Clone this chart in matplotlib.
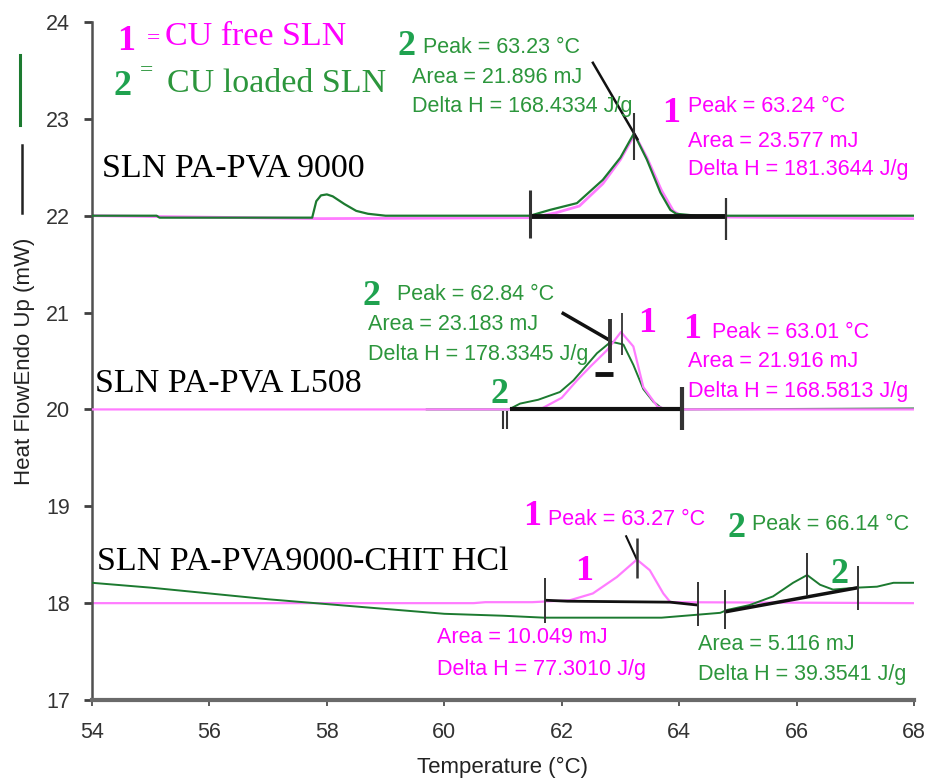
import matplotlib
matplotlib.use("Agg")
import matplotlib.pyplot as plt
from matplotlib.lines import Line2D

# ---------------- data ----------------
# Top trace: SLN PA-PVA 9000
g1_x = [54, 55.1, 55.15, 57.75, 57.82, 57.9, 58.0, 58.1, 58.3, 58.5, 58.7, 59.0, 61.46, 61.8, 62.26, 62.7, 63.0, 63.23, 63.45, 63.68, 63.85, 63.95, 64.3, 68]
g1_y = [22.0, 22.0, 21.98, 21.98, 22.15, 22.21, 22.22, 22.2, 22.12, 22.05, 22.02, 22.0, 22.0, 22.06, 22.13, 22.37, 22.6, 22.85, 22.58, 22.24, 22.06, 22.02, 22.0, 22.0]
p1_x = [54, 57.9, 61.5, 61.9, 62.3, 62.7, 63.0, 63.24, 63.45, 63.7, 63.9, 64.05, 68]
p1_y = [22.0, 21.97, 21.98, 22.03, 22.1, 22.33, 22.58, 22.84, 22.6, 22.26, 22.05, 21.99, 21.97]

# Middle trace: SLN PA-PVA L508
p2_x = [54, 61.63, 62.0, 62.26, 62.5, 62.77, 63.01, 63.22, 63.39, 63.63, 63.8, 68]
p2_y = [20.0, 20.0, 20.12, 20.3, 20.45, 20.61, 20.8, 20.65, 20.23, 20.03, 20.0, 20.0]
g2_x = [59.7, 61.1, 61.29, 61.6, 61.97, 62.2, 62.43, 62.6, 62.84, 63.05, 63.22, 63.39, 63.56, 63.73, 64.0, 68]
g2_y = [20.0, 20.0, 20.06, 20.1, 20.18, 20.3, 20.46, 20.58, 20.7, 20.67, 20.46, 20.21, 20.08, 20.0, 20.0, 20.01]

# Bottom trace: SLN PA-PVA9000-CHIT HCl
g3_x = [54, 55, 56, 57, 58, 59, 60, 61, 61.7, 63.7, 64.3, 64.7, 64.82, 65.2, 65.6, 65.94, 66.18, 66.4, 66.62, 67.03, 67.37, 67.65, 68]
g3_y = [18.21, 18.16, 18.1, 18.04, 17.99, 17.94, 17.89, 17.87, 17.85, 17.85, 17.88, 17.9, 17.93, 17.98, 18.07, 18.21, 18.29, 18.19, 18.14, 18.16, 18.17, 18.21, 18.21]
p3_x = [54, 60.5, 60.7, 61.5, 62.14, 62.53, 62.94, 63.28, 63.5, 63.73, 63.85, 68]
p3_y = [18.0, 18.0, 18.01, 18.01, 18.03, 18.1, 18.27, 18.45, 18.34, 18.1, 18.01, 18.0]

# integration baselines and tangents (black)
base_segments = [
    ([61.46, 64.8], [22.0, 22.0], 3.5),
    ([62.52, 63.3], [23.59, 22.78], 1.8),
    ([61.12, 64.05], [20.0, 20.0], 3.0),
    ([62.0, 62.8], [21.0, 20.72], 2.5),
    ([62.57, 62.88], [20.37, 20.37], 3.5),
    ([61.72, 62.1, 63.85, 64.32], [18.03, 18.02, 18.01, 17.98], 2.0),
    ([64.78, 67.05], [17.91, 18.16], 2.5),
    ([63.09, 63.28], [18.7, 18.45], 1.5),
]
# vertical limit/peak markers: x, y bottom, y top, width
mark_x = [61.46, 64.8, 63.23, 61.0, 61.07, 64.05, 62.83, 63.03, 61.72, 64.32, 63.28, 64.78, 67.05, 66.18]
mark_y0 = [21.77, 21.75, 22.58, 19.8, 19.8, 19.79, 20.48, 20.56, 17.8, 17.76, 18.26, 17.73, 17.93, 18.07]
mark_y1 = [22.27, 22.18, 23.06, 19.98, 19.98, 20.23, 20.93, 21.0, 18.26, 18.22, 18.67, 18.14, 18.38, 18.52]
mark_w = [2.2, 1.6, 1.5, 1.5, 1.5, 3.0, 2.8, 1.3, 1.4, 1.4, 1.8, 1.4, 1.4, 1.4]

xticks = [54, 56, 58, 60, 62, 64, 66, 68]
yticks = [17, 18, 19, 20, 21, 22, 23, 24]

# ---------------- style ----------------
MAG = "#ff00ff"
PINK = "#ff7cff"
GCURVE = "#1c7a30"
GTEXT = "#2c963c"
GNUM = "#1fa24f"
SANS = "Liberation Sans"
SERIF = "Liberation Serif"

fig = plt.figure(figsize=(9.28, 7.78), dpi=100)
ax = fig.add_axes([92 / 928, 78 / 778, 822 / 928, 678 / 778])
ax.set_xlim(54, 68)
ax.set_ylim(17, 24)

for s in ["top", "right"]:
    ax.spines[s].set_visible(False)
ax.spines["left"].set_color("#505050")
ax.spines["left"].set_linewidth(1.8)
ax.spines["bottom"].set_color("#6a6a6a")
ax.spines["bottom"].set_linewidth(3.0)

ax.set_xticks(xticks)
ax.set_yticks(yticks)
ax.tick_params(axis="y", direction="out", length=6, width=2, color="#404040",
               labelsize=15.5, labelcolor="#333333", pad=10)
ax.tick_params(axis="x", direction="out", length=4, width=1.2, color="#404040",
               labelsize=15.5, labelcolor="#333333", pad=12)
for lab in ax.get_xticklabels() + ax.get_yticklabels():
    lab.set_fontfamily(SANS)

ax.set_xlabel("Temperature (°C)", fontsize=16, family=SANS, color="#222222", labelpad=10)
fig.text(25 / 928, 1 - 361 / 778, "Heat FlowEndo Up (mW)", rotation=90, ha="center", va="center",
         fontsize=16, family=SANS, color="#222222")

# legend marks at left edge
fig.add_artist(Line2D([20 / 928, 20 / 928], [1 - 55 / 778, 1 - 125 / 778], color=GCURVE, lw=2.2))
fig.add_artist(Line2D([22 / 928, 22 / 928], [1 - 145 / 778, 1 - 213 / 778], color="#222222", lw=1.8))

# curves
ax.plot(p1_x, p1_y, color=PINK, lw=2.0, zorder=2)
ax.plot(g1_x, g1_y, color=GCURVE, lw=1.6, zorder=3)
ax.plot(p2_x, p2_y, color=PINK, lw=1.6, zorder=3)
ax.plot(g2_x, g2_y, color=GCURVE, lw=1.4, zorder=2)
ax.plot(p3_x, p3_y, color=PINK, lw=1.6, zorder=2)
ax.plot(g3_x, g3_y, color=GCURVE, lw=1.4, zorder=3)

for xs, ys, w in base_segments:
    ax.plot(xs, ys, color="#111111", lw=w, zorder=4, solid_capstyle="butt")
for x, y0, y1, w in zip(mark_x, mark_y0, mark_y1, mark_w):
    ax.plot([x, x], [y0, y1], color="#333333", lw=w, zorder=5, solid_capstyle="butt")

# ---------------- texts ----------------
def serif(x, y, s, color, size=24.5, weight="normal"):
    ax.text(x, y, s, color=color, family=SERIF, fontsize=size, weight=weight,
            ha="left", va="baseline", zorder=6)

def num(x, y, s, color):
    ax.text(x, y, s, color=color, family=SERIF, fontsize=26, weight="bold",
            ha="left", va="baseline", zorder=6)

def sans(x, y, s, color):
    ax.text(x, y, s, color=color, family=SANS, fontsize=15.5, ha="left", va="baseline", zorder=6)

# legend
num(54.426, 23.711, "1", MAG)
ax.text(54.937, 23.77, "=", color=MAG, family=SERIF, fontsize=17, ha="left", va="baseline")
serif(55.243, 23.763, "CU free SLN", MAG)
num(54.358, 23.246, "2", GNUM)
ax.text(54.818, 23.44, "=", color=GTEXT, family=SERIF, fontsize=17, ha="left", va="baseline")
serif(55.277, 23.277, "CU loaded SLN", GTEXT)

# sample labels
serif(54.17, 22.40, "SLN PA-PVA 9000", "black")
serif(54.05, 20.18, "SLN PA-PVA L508", "black")
serif(54.085, 18.342, "SLN PA-PVA9000-CHIT HCl", "black")

# top annotations
num(59.195, 23.66, "2", GNUM)
sans(59.638, 23.68, "Peak = 63.23 °C", GTEXT)
sans(59.45, 23.37, "Area = 21.896 mJ", GTEXT)
sans(59.45, 23.07, "Delta H = 168.4334 J/g", GTEXT)
num(63.709, 22.968, "1", MAG)
sans(64.152, 23.07, "Peak = 63.24 °C", MAG)
sans(64.152, 22.71, "Area = 23.577 mJ", MAG)
sans(64.152, 22.42, "Delta H = 181.3644 J/g", MAG)

# middle annotations
num(58.599, 21.08, "2", GNUM)
sans(59.195, 21.13, "Peak = 62.84 °C", GTEXT)
sans(58.701, 20.82, "Area = 23.183 mJ", GTEXT)
sans(58.701, 20.51, "Delta H = 178.3345 J/g", GTEXT)
num(60.779, 20.067, "2", GNUM)
num(63.30, 20.80, "1", MAG)
num(64.067, 20.74, "1", MAG)
sans(64.561, 20.74, "Peak = 63.01 °C", MAG)
sans(64.152, 20.44, "Area = 21.916 mJ", MAG)
sans(64.152, 20.13, "Delta H = 168.5813 J/g", MAG)

# bottom annotations
num(61.341, 18.807, "1", MAG)
sans(61.767, 18.807, "Peak = 63.27 °C", MAG)
num(62.227, 18.24, "1", MAG)
sans(59.876, 17.589, "Area = 10.049 mJ", MAG)
sans(59.876, 17.258, "Delta H = 77.3010 J/g", MAG)
num(64.816, 18.683, "2", GNUM)
sans(65.242, 18.755, "Peak = 66.14 °C", GTEXT)
num(66.57, 18.208, "2", GNUM)
sans(64.323, 17.516, "Area = 5.116 mJ", GTEXT)
sans(64.323, 17.207, "Delta H = 39.3541 J/g", GTEXT)

fig.savefig("out.png", dpi=100)
